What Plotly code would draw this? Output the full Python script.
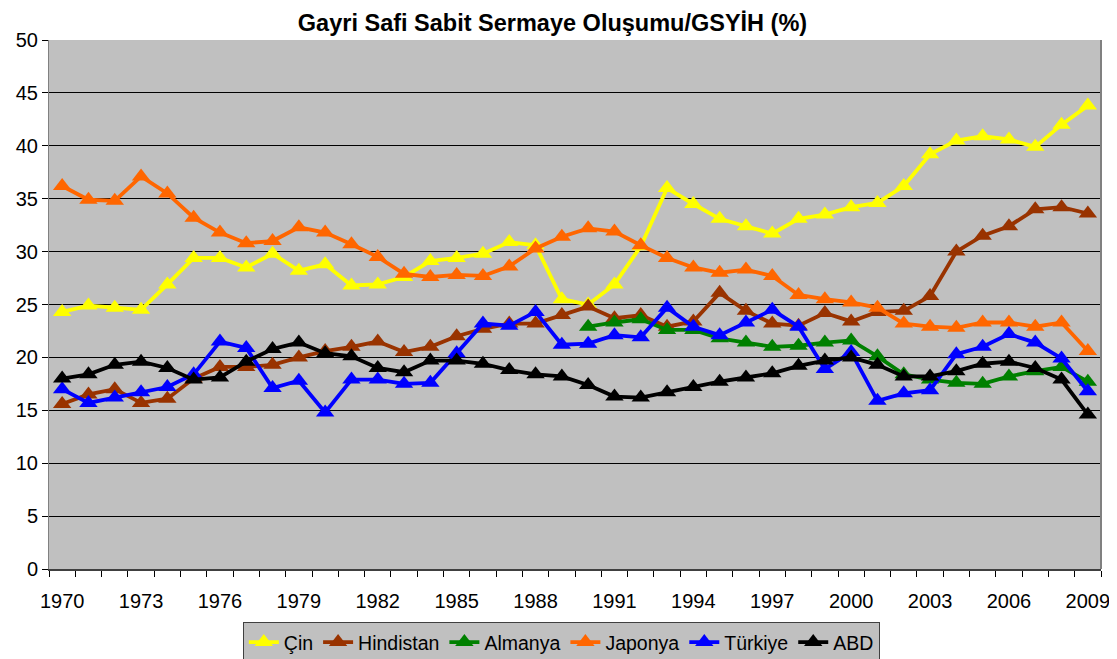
import plotly.graph_objects as go

years = list(range(1970, 2010))

cin = [24.3, 24.9, 24.7, 24.5, 26.9, 29.4, 29.4, 28.5, 29.8, 28.2,
       28.8, 26.8, 26.9, 27.6, 29.1, 29.4, 29.8, 30.9, 30.6, 25.5,
       25.0, 26.9, 30.5, 36.0, 34.5, 33.1, 32.4, 31.7, 33.1, 33.5,
       34.2, 34.6, 36.2, 39.2, 40.5, 40.9, 40.6, 39.9, 42.0, 43.8]
hindistan = [15.6, 16.5, 17.0, 15.7, 16.1, 18.0, 19.1, 19.1, 19.3, 20.0,
             20.6, 21.0, 21.5, 20.5, 21.0, 22.0, 22.7, 23.2, 23.2, 24.0,
             24.8, 23.7, 24.0, 22.9, 23.4, 26.1, 24.4, 23.2, 23.0, 24.2,
             23.4, 24.3, 24.4, 25.8, 30.0, 31.5, 32.4, 34.0, 34.2, 33.6]
almanya = [None] * 20 + [22.9, 23.3, 23.6, 22.6, 22.6, 21.8, 21.4, 21.0, 21.1, 21.4,
                         21.6, 20.1, 18.4, 17.9, 17.6, 17.5, 18.2, 18.7, 19.1, 17.7]
japonya = [36.2, 34.9, 34.8, 37.1, 35.5, 33.2, 31.8, 30.8, 31.0, 32.3,
           31.8, 30.7, 29.5, 27.9, 27.6, 27.8, 27.7, 28.6, 30.3, 31.4,
           32.2, 31.9, 30.6, 29.4, 28.5, 28.0, 28.3, 27.7, 25.9, 25.5,
           25.2, 24.7, 23.2, 22.9, 22.8, 23.3, 23.3, 22.9, 23.3, 20.6]
turkiye = [17.0, 15.7, 16.2, 16.7, 17.2, 18.4, 21.5, 20.9, 17.1, 17.8,
           14.8, 17.9, 17.9, 17.5, 17.6, 20.4, 23.2, 23.0, 24.3, 21.2,
           21.3, 22.1, 21.9, 24.7, 22.9, 22.1, 23.3, 24.5, 22.9, 18.9,
           20.5, 15.9, 16.6, 16.9, 20.3, 21.0, 22.2, 21.4, 19.9, 16.8]
abd = [18.0, 18.4, 19.3, 19.6, 19.0, 17.9, 18.1, 19.6, 20.8, 21.4,
       20.4, 20.1, 19.0, 18.6, 19.7, 19.7, 19.4, 18.8, 18.4, 18.2,
       17.4, 16.3, 16.2, 16.7, 17.2, 17.7, 18.1, 18.5, 19.2, 19.7,
       20.0, 19.3, 18.2, 18.2, 18.7, 19.4, 19.6, 19.0, 17.9, 14.6]

series = [
    ("Çin", cin, "#FFFF00"),
    ("Hindistan", hindistan, "#993300"),
    ("Almanya", almanya, "#008000"),
    ("Japonya", japonya, "#FF6600"),
    ("Türkiye", turkiye, "#0000FF"),
    ("ABD", abd, "#000000"),
]

label_years = list(range(1970, 2010, 3))

fig = go.Figure()
for name, vals, color in series:
    fig.add_trace(go.Scatter(
        x=years, y=vals, name=name, mode="lines+markers",
        line=dict(color=color, width=3.8),
        marker=dict(symbol="triangle-up", size=16, color=color),
        connectgaps=False,
    ))

# the page body adds an 8px margin, so the figure is 8px smaller than the window
fig.update_layout(
    width=1109, height=651,
    paper_bgcolor="white", plot_bgcolor="#C0C0C0",
    margin=dict(l=41, r=16, t=32, b=90, autoexpand=False),
    font=dict(family="Liberation Sans, Arial, sans-serif", size=20, color="black"),
    title=dict(text="<b>Gayri Safi Sabit Sermaye Oluşumu/GSYİH (%)</b>",
               x=0.491, xanchor="center", y=0.977, yanchor="middle",
               font=dict(size=23.5)),
    legend=dict(orientation="h", x=0.487, xanchor="center", y=-0.1, yanchor="top",
                bgcolor="#C0C0C0", bordercolor="#404040", borderwidth=1,
                font=dict(size=19.5), tracegroupgap=0),
    showlegend=True,
)
fig.update_xaxes(
    range=[1969.5, 2009.5], tickvals=label_years, ticktext=[str(y) for y in label_years],
    ticks="outside", ticklen=13, tickcolor="rgba(0,0,0,0)",
    showgrid=False, zeroline=False, automargin=False,
    showline=True, linecolor="#404040", linewidth=2,
    minor=dict(tick0=1969.5, dtick=1, ticks="outside", ticklen=6,
               tickcolor="black", tickwidth=1, showgrid=False),
    tickfont=dict(size=20),
)
fig.update_yaxes(
    range=[0, 50], dtick=5, ticks="outside", ticklen=6, tickcolor="black",
    showgrid=True, gridcolor="#000000", gridwidth=1, automargin=False,
    zeroline=False, showline=True, linecolor="#808080", linewidth=1,
    tickfont=dict(size=20),
)
# right border of the plot area
fig.add_shape(type="line", xref="paper", yref="paper", x0=1, x1=1, y0=0, y1=1,
              line=dict(color="#808080", width=2))

fig.write_html("out.html")
